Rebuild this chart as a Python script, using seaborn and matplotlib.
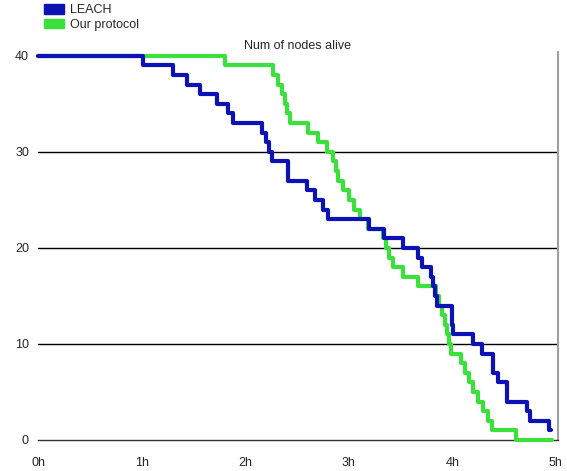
import matplotlib
matplotlib.use("Agg")

import matplotlib.pyplot as plt  # noqa: E402
import pandas as pd  # noqa: E402
import seaborn as sns  # noqa: E402
from matplotlib.patches import Patch  # noqa: E402

# Dados (tempo em horas, nós vivos)
leach_time = [0, 1.01, 1.30, 1.44, 1.56, 1.73, 1.83, 1.88, 2.16, 2.20, 2.23, 2.26,
              2.41, 2.60, 2.67, 2.75, 2.80, 3.20, 3.34, 3.52, 3.67, 3.71, 3.79,
              3.81, 3.83, 3.85, 4.00, 4.01, 4.20, 4.29, 4.39, 4.44, 4.53, 4.72,
              4.75, 4.93, 4.95]
leach_alive = [40, 39, 38, 37, 36, 35, 34, 33, 32, 31, 30, 29,
               27, 26, 25, 24, 23, 22, 21, 20, 19, 18, 17,
               16, 15, 14, 12, 11, 10, 9, 7, 6, 4, 3,
               2, 1, 1]

ours_time = [0, 1.81, 2.27, 2.32, 2.36, 2.38, 2.40, 2.43, 2.61, 2.70, 2.79, 2.85,
             2.88, 2.90, 2.94, 3.00, 3.05, 3.11, 3.19, 3.33, 3.36, 3.39, 3.43,
             3.52, 3.67, 3.84, 3.87, 3.90, 3.93, 3.95, 3.97, 3.99, 4.08, 4.12,
             4.16, 4.20, 4.25, 4.30, 4.34, 4.38, 4.61, 4.96]
ours_alive = [40, 39, 38, 37, 36, 35, 34, 33, 32, 31, 30, 29,
              28, 27, 26, 25, 24, 23, 22, 21, 20, 19, 18,
              17, 16, 15, 14, 13, 12, 11, 10, 9, 8, 7,
              6, 5, 4, 3, 2, 1, 0, 0]

x_ticks = [0, 1, 2, 3, 4, 5]
x_labels = ["0h", "1h", "2h", "3h", "4h", "5h"]
y_ticks = [0, 10, 20, 30, 40]
grid_levels = [10, 20, 30]

BLUE = "#0c12b4"
GREEN = "#3ce03c"

sns.set_style("white")
plt.rcParams["font.family"] = ["Liberation Sans", "DejaVu Sans"]
plt.rcParams["font.size"] = 9

leach = pd.DataFrame({"t": leach_time, "n": leach_alive})
ours = pd.DataFrame({"t": ours_time, "n": ours_alive})

fig = plt.figure(figsize=(5.67, 4.71), dpi=100)
W, H = 567, 471
ax = fig.add_axes([38 / W, (H - 440) / H, 520 / W, 388 / H])

sns.lineplot(data=ours, x="t", y="n", ax=ax, color=GREEN, linewidth=3,
             drawstyle="steps-post", estimator=None, sort=False, clip_on=False, zorder=3)
sns.lineplot(data=leach, x="t", y="n", ax=ax, color=BLUE, linewidth=3,
             drawstyle="steps-post", estimator=None, sort=False, clip_on=False, zorder=4)

for g in grid_levels:
    ax.axhline(g, color="black", linewidth=1, zorder=1)

ax.set_xlim(0, 5.02)
ax.set_ylim(0, 40.4)
ax.set_xticks(x_ticks)
ax.set_xticklabels(x_labels)
ax.set_yticks(y_ticks)
ax.set_xlabel("")
ax.set_ylabel("")
ax.tick_params(axis="x", direction="out", length=8, width=1, color="#333333", pad=4)
ax.tick_params(axis="y", length=0, pad=6.5)

for side in ["left", "top"]:
    ax.spines[side].set_visible(False)
ax.spines["bottom"].set_color("#333333")
ax.spines["bottom"].set_linewidth(1)
ax.spines["right"].set_color("#a0a0a0")
ax.spines["right"].set_linewidth(1.5)

ax.set_title("Num of nodes alive", fontsize=9, pad=2)

handles = [Patch(color=BLUE, label="LEACH"), Patch(color=GREEN, label="Our protocol")]
fig.legend(handles=handles, loc="upper left", bbox_to_anchor=(44 / W, 1 - 4 / H),
           frameon=False, handlelength=1.6, handleheight=0.8, handletextpad=0.5,
           labelspacing=0.2, borderpad=0, borderaxespad=0, fontsize=9)

fig.savefig("out.png", dpi=100)
